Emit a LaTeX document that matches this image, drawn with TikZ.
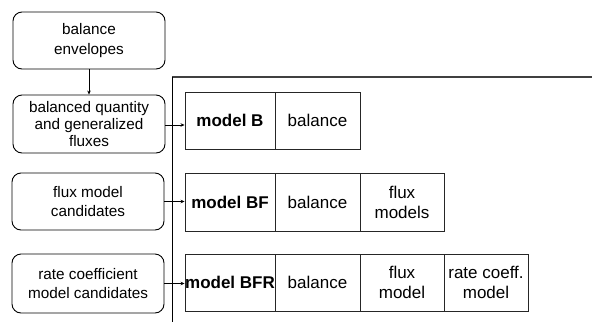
\documentclass[tikz,border=0pt]{standalone}
\usepackage{fontspec}
\setmainfont{Liberation Sans}
\usetikzlibrary{arrows.meta}
\begin{document}
\begin{tikzpicture}[x=1pt,y=-1pt,
  leftbox/.style={draw=black, line width=0.9pt, rounded corners=9pt, minimum width=152pt, inner sep=0pt,
    align=center, font=\fontsize{15.3}{19.5}\selectfont},
  cell/.style={draw=black!85, line width=0.9pt, inner sep=0pt, align=center,
    font=\fontsize{17}{20}\selectfont},
  boldcell/.style={cell, font=\fontsize{17}{20}\selectfont\bfseries},
  conn/.style={-{Stealth[length=4pt,width=3.5pt]}, line width=0.6pt}]
\useasboundingbox (0,0) rectangle (592,322);
% frame
\draw[line width=2pt, black!75] (172,77) -- (592,77);
\draw[line width=0.8pt] (172,77) -- (172,322);
% left boxes
\node[leftbox, minimum height=57pt] (L1) at (89,40.5) {balance\\envelopes};
\node[leftbox, minimum height=58pt, font=\fontsize{15.3}{16.6}\selectfont] (L2) at (89,124) {balanced quantity\\and generalized\\fluxes};
\node[leftbox, minimum height=57pt] (L3) at (88,201.5) {flux model\\candidates};
\node[leftbox, minimum height=59pt] (L4) at (88,283.5) {rate coefficient\\model candidates};
% row 1
\node[boldcell, minimum width=90pt, minimum height=57pt] (A1) at (230,120.5) {model B};
\node[cell, minimum width=85pt, minimum height=57pt] (B1) at (317.5,120.5) {balance};
% row 2
\node[boldcell, minimum width=90pt, minimum height=58pt] (A2) at (230,202) {model BF};
\node[cell, minimum width=85pt, minimum height=58pt] (B2) at (317.5,202) {balance};
\node[cell, minimum width=84pt, minimum height=58pt] (C2) at (402,202) {flux\\models};
% row 3
\node[boldcell, minimum width=90pt, minimum height=57pt] (A3) at (230,282.5) {model BFR};
\node[cell, minimum width=85pt, minimum height=57pt] (B3) at (317.5,282.5) {balance};
\node[cell, minimum width=84pt, minimum height=57pt] (C3) at (402,282.5) {flux\\model};
\node[cell, minimum width=84pt, minimum height=57pt] (D3) at (486,282.5) {rate coeff.\\model};
% connectors
\draw[conn] (L1.south) -- (L2.north);
\draw[conn] ([yshift=-1pt]L2.east) -- ([yshift=-1pt]L2.east -| A1.west);
\draw[conn] (L3.east) -- (L3.east -| A2.west);
\draw[conn] (L4.east) -- (L4.east -| A3.west);
\end{tikzpicture}
\end{document}
